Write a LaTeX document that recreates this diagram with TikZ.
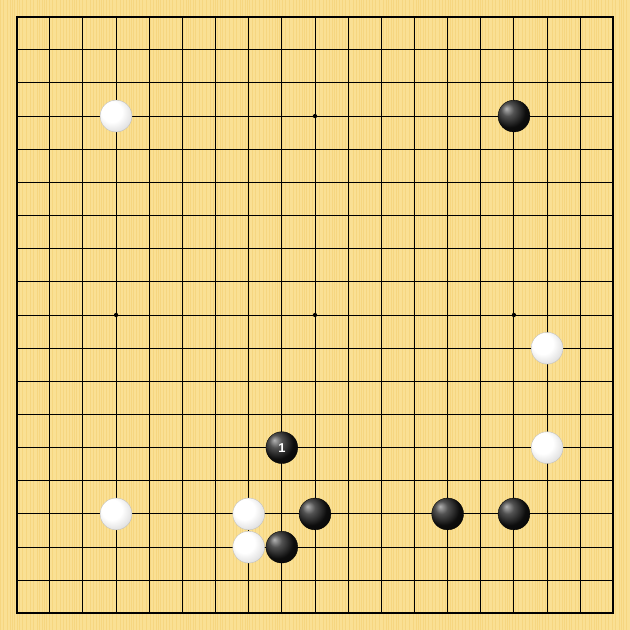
\documentclass[tikz,border=0pt]{standalone}
\usepackage{fontspec}
\newfontfamily\stonefont{Liberation Sans}
\definecolor{boardwood}{RGB}{250,224,148}
\definecolor{woodgrain}{RGB}{244,206,112}
\pgfdeclareradialshading{whiteshade}{\pgfpoint{-9bp}{9bp}}{color(0bp)=(white); color(16bp)=(white); color(30bp)=(black!12); color(50bp)=(black!40); color(60bp)=(black!45)}
\pgfdeclareradialshading{blackshade}{\pgfpoint{-12bp}{12bp}}{color(0bp)=(black!30); color(10bp)=(black!68); color(25bp)=(black!95); color(50bp)=(black); color(60bp)=(black)}
\tikzset{
  whitestone/.style={circle, inner sep=0pt, minimum size=0.96cm, shading=whiteshade, draw=black!25, line width=0.3pt},
  blackstone/.style={circle, inner sep=0pt, minimum size=0.96cm, shading=blackshade, draw=black, line width=0.3pt},
  starpoint/.style={circle, fill, inner sep=0pt, minimum size=0.13cm},
  grain/.style={woodgrain, line width=0.6pt, opacity=0.55},
}
\begin{document}
\begin{tikzpicture}[x=1cm, y=-1cm]
    \fill[boardwood] (-0.5,-0.5) rectangle (18.5,18.5);
    \useasboundingbox (-0.5,-0.5) rectangle (18.5,18.5);
    % wood grain
    \foreach \i in {0,...,210} {
        \pgfmathsetmacro{\gx}{-0.5 + \i*0.09 + 0.035*sin(\i*37)}
        \draw[grain] (\gx,-0.5) -- (\gx,18.5);
    }
    % grid
    \foreach \i in {1,...,17} {
        \draw[line width=0.85pt] (\i,0) -- (\i,18);
        \draw[line width=0.85pt] (0,\i) -- (18,\i);
    }
    \draw[line width=1.7pt] (0,0) rectangle (18,18);
    % hoshi
    \foreach \x in {3,9,15} {
        \foreach \y in {3,9,15} {
            \node[starpoint] (hoshi-\x-\y) at (\x,\y) {};
        }
    }
    % white stones
    \node[whitestone] (w1) at (3,3) {};
    \node[whitestone] (w2) at (16,10) {};
    \node[whitestone] (w3) at (16,13) {};
    \node[whitestone] (w4) at (3,15) {};
    \node[whitestone] (w5) at (7,15) {};
    \node[whitestone] (w6) at (7,16) {};
    % black stones
    \node[blackstone] (b1) at (15,3) {};
    \node[blackstone, text=white, font=\stonefont\bfseries\fontsize{11}{11}\selectfont] (b2) at (8,13) {1};
    \node[blackstone] (b3) at (9,15) {};
    \node[blackstone] (b4) at (13,15) {};
    \node[blackstone] (b5) at (15,15) {};
    \node[blackstone] (b6) at (8,16) {};
\end{tikzpicture}
\end{document}
